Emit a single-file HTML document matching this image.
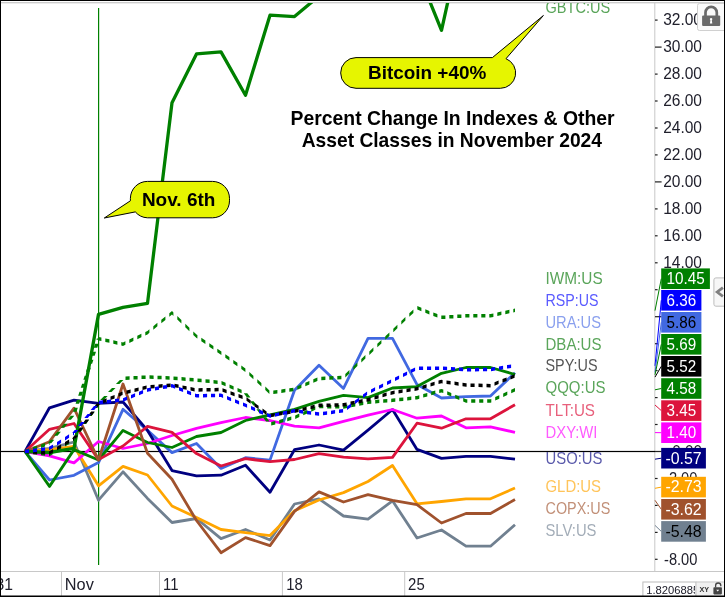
<!DOCTYPE html><html><head><meta charset="utf-8"><title>Percent Change In Indexes</title><style>html,body{margin:0;padding:0;background:#fff}body{width:725px;height:597px;overflow:hidden}</style></head><body><svg width="725" height="597" viewBox="0 0 725 597" style="display:block;font-family:'Liberation Sans',sans-serif">
<rect width="725" height="597" fill="#fff"/>
<defs><clipPath id="plot"><rect x="1" y="3" width="653.5" height="568"/></clipPath><clipPath id="axc"><rect x="655" y="3" width="69" height="568"/></clipPath><clipPath id="inp"><rect x="643" y="582" width="52" height="13.5"/></clipPath></defs>
<rect x="1" y="2.2" width="723" height="1.1" fill="#c0c0c0"/>
<rect x="1" y="571" width="723" height="1" fill="#c8c8c8"/>
<rect x="654.3" y="3" width="1" height="568" fill="#c8c8c8"/>
<rect x="61.0" y="571" width="1" height="25" fill="#c8c8c8"/>
<rect x="159.0" y="571" width="1" height="25" fill="#c8c8c8"/>
<rect x="281.9" y="571" width="1" height="25" fill="#c8c8c8"/>
<rect x="404.2" y="571" width="1" height="25" fill="#c8c8c8"/>
<rect x="98" y="8" width="1.2" height="557" fill="#008000"/>
<rect x="1" y="450.9" width="654" height="1.2" fill="#000"/>
<g clip-path="url(#plot)" fill="none" stroke-linejoin="round" stroke-linecap="butt">
<path d="M25.0 451.5L49.5 448.4L74.0 442.0L98.5 500.2L123.0 471.8L147.5 498.4L172.0 522.5L196.5 518.5L221.0 538.6L245.5 529.5L270.0 540.0L294.5 504.0L319.0 498.8L343.5 516.0L368.0 519.2L392.5 500.8L417.0 538.0L441.5 530.0L466.0 546.2L490.5 546.2L515.0 524.8" stroke="#708090" stroke-width="2.8"/>
<path d="M25.0 451.5L49.5 449.6L74.0 446.5L98.5 485.8L123.0 466.4L147.5 475.0L172.0 506.0L196.5 517.5L221.0 529.5L245.5 532.6L270.0 535.6L294.5 510.8L319.0 500.0L343.5 492.6L368.0 481.5L392.5 465.5L417.0 503.8L441.5 501.5L466.0 498.8L490.5 498.8L515.0 488.0" stroke="#ffa500" stroke-width="2.8"/>
<path d="M25.0 451.5L49.5 480.0L74.0 475.3L98.5 462.6L123.0 409.3L147.5 430.4L172.0 452.6L196.5 443.5L221.0 468.4L245.5 457.7L270.0 460.1L294.5 390.3L319.0 365.2L343.5 388.4L368.0 338.3L392.5 338.3L417.0 384.6L441.5 398.0L466.0 396.6L490.5 396.0L515.0 372.7" stroke="#4169e1" stroke-width="2.8"/>
<path d="M25.0 451.5L49.5 407.8L74.0 400.2L98.5 403.3L123.0 402.0L147.5 430.4L172.0 470.6L196.5 475.8L221.0 475.2L245.5 465.2L270.0 492.3L294.5 449.7L319.0 445.0L343.5 450.2L368.0 430.2L392.5 409.5L417.0 449.4L441.5 458.4L466.0 456.4L490.5 456.4L515.0 459.1" stroke="#000080" stroke-width="2.8"/>
<path d="M25.0 451.5L49.5 455.8L74.0 462.9L98.5 441.5L123.0 448.5L147.5 443.5L172.0 435.5L196.5 428.4L221.0 422.6L245.5 417.5L270.0 420.5L294.5 426.1L319.0 427.9L343.5 421.3L368.0 415.2L392.5 409.5L417.0 418.2L441.5 416.0L466.0 427.8L490.5 426.8L515.0 432.4" stroke="#ff00ff" stroke-width="2.8"/>
<path d="M25.0 451.5L49.5 486.4L74.0 449.6L98.5 460.0L123.0 430.4L147.5 442.5L172.0 447.5L196.5 436.5L221.0 432.5L245.5 420.5L270.0 414.8L294.5 409.4L319.0 401.4L343.5 395.4L368.0 397.6L392.5 388.0L417.0 386.6L441.5 373.3L466.0 367.5L490.5 367.5L515.0 374.5" stroke="#008000" stroke-width="2.8"/>
<path d="M25.0 451.5L49.5 429.3L74.0 423.5L98.5 459.6L123.0 446.0L147.5 426.4L172.0 432.4L196.5 453.6L221.0 466.0L245.5 458.7L270.0 461.7L294.5 459.5L319.0 453.7L343.5 457.2L368.0 458.8L392.5 457.4L417.0 423.2L441.5 428.2L466.0 418.8L490.5 418.8L515.0 404.7" stroke="#dc143c" stroke-width="2.8"/>
<path d="M25.0 451.5L49.5 441.7L74.0 408.2L98.5 460.0L123.0 384.0L147.5 453.3L172.0 479.2L196.5 520.5L221.0 552.7L245.5 537.6L270.0 545.6L294.5 511.4L319.0 491.9L343.5 502.0L368.0 494.6L392.5 500.3L417.0 504.7L441.5 523.0L466.0 513.5L490.5 513.5L515.0 499.5" stroke="#a0522d" stroke-width="2.8"/>
<path d="M25.0 451.5L49.5 452.5L74.0 448.4L98.5 314.4L123.0 307.4L147.5 303.4L172.0 102.8L196.5 53.9L221.0 51.9L245.5 95.3L270.0 15.2L294.5 16.6L319.0 -4.0L343.5 -40.0L368.0 -60.0L392.5 -50.0L417.0 -30.0L441.5 30.3L466.0 -80.0L490.5 -90.0L515.0 -100.0" stroke="#008000" stroke-width="3.3"/>
<path d="M25.0 449.8L29.1 448.4L29.1 451.9L25.0 453.2ZM33.0 447.1L37.1 445.7L37.1 449.2L33.0 450.6ZM41.0 444.4L45.1 443.0L45.1 446.5L41.0 447.9ZM49.0 441.7L49.5 441.6L49.5 445.1L49.0 445.2ZM47.8 443.3L50.8 439.7L54.3 439.7L51.2 443.3ZM54.0 435.8L57.4 431.7L60.9 431.7L57.5 435.8ZM60.7 427.8L64.1 423.7L67.6 423.7L64.2 427.8ZM67.4 419.8L70.8 415.7L74.3 415.7L70.9 419.8ZM73.0 411.8L74.3 407.7L77.8 407.7L76.5 411.8ZM75.6 403.8L76.9 399.7L80.4 399.7L79.1 403.8ZM78.2 395.8L79.5 391.7L83.0 391.7L81.7 395.8ZM80.8 387.8L82.1 383.7L85.6 383.7L84.3 387.8ZM83.4 379.8L84.7 375.7L88.2 375.7L86.9 379.8ZM86.0 371.8L87.3 367.7L90.8 367.7L89.5 371.8ZM88.6 363.8L89.9 359.7L93.4 359.7L92.1 363.8ZM91.2 355.8L92.5 351.7L96.0 351.7L94.7 355.8ZM93.8 347.8L95.1 343.7L98.6 343.7L97.3 347.8ZM96.4 339.8L96.8 338.6L100.2 338.6L99.9 339.8ZM98.5 336.9L101.4 337.5L101.4 341.0L98.5 340.4ZM105.3 338.4L109.4 339.3L109.4 342.8L105.3 341.9ZM113.3 340.2L117.4 341.2L117.4 344.7L113.3 343.7ZM121.3 342.1L123.0 342.4L123.0 345.9L121.3 345.6ZM123.0 342.4L125.4 341.3L125.4 344.8L123.0 345.9ZM129.3 339.5L133.4 337.5L133.4 341.0L129.3 343.0ZM137.3 335.7L141.4 333.7L141.4 337.2L137.3 339.2ZM145.3 331.9L147.5 330.9L147.5 334.4L145.3 335.4ZM147.5 330.9L149.4 329.3L149.4 332.8L147.5 334.4ZM153.3 326.2L157.4 322.8L157.4 326.3L153.3 329.7ZM161.3 319.7L165.4 316.4L165.4 319.9L161.3 323.2ZM169.3 313.2L172.0 311.1L172.0 314.6L169.3 316.7ZM172.0 311.1L173.4 312.4L173.4 315.9L172.0 314.6ZM177.3 316.1L181.4 320.0L181.4 323.5L177.3 319.6ZM185.3 323.8L189.4 327.7L189.4 331.2L185.3 327.3ZM193.3 331.4L196.5 334.4L196.5 337.9L193.3 334.9ZM196.5 334.4L197.4 335.1L197.4 338.6L196.5 337.9ZM201.3 337.7L205.4 340.6L205.4 344.1L201.3 341.2ZM209.3 343.2L213.4 346.0L213.4 349.5L209.3 346.7ZM217.3 348.7L221.0 351.2L221.0 354.8L217.3 352.2ZM221.0 351.2L221.4 351.5L221.4 355.0L221.0 354.8ZM225.3 354.3L229.4 357.1L229.4 360.6L225.3 357.8ZM233.3 359.9L237.4 362.8L237.4 366.3L233.3 363.4ZM241.3 365.5L245.4 368.4L245.4 371.9L241.3 369.0ZM249.3 371.9L253.4 375.7L253.4 379.2L249.3 375.4ZM257.3 379.3L261.4 383.1L261.4 386.6L257.3 382.8ZM265.3 386.6L269.4 390.4L269.4 393.9L265.3 390.1ZM273.3 390.5L277.4 389.9L277.4 393.4L273.3 394.0ZM281.3 389.4L285.4 388.8L285.4 392.3L281.3 392.9ZM289.3 388.3L293.4 387.7L293.4 391.2L289.3 391.8ZM297.3 386.3L301.4 384.5L301.4 388.0L297.3 389.8ZM305.3 382.8L309.4 381.0L309.4 384.5L305.3 386.3ZM313.3 379.3L317.4 377.5L317.4 381.0L313.3 382.8ZM321.3 376.7L325.4 376.5L325.4 380.0L321.3 380.2ZM329.3 376.3L333.4 376.1L333.4 379.6L329.3 379.8ZM337.3 375.9L341.4 375.7L341.4 379.2L337.3 379.4ZM345.3 373.9L349.4 370.0L349.4 373.5L345.3 377.4ZM353.3 366.4L357.4 362.6L357.4 366.1L353.3 369.9ZM361.3 358.9L365.4 355.1L365.4 358.6L361.3 362.4ZM369.3 351.4L373.4 347.5L373.4 351.0L369.3 354.9ZM377.3 343.8L381.4 340.0L381.4 343.5L377.3 347.3ZM385.3 336.3L389.4 332.4L389.4 335.9L385.3 339.8ZM393.3 328.7L397.4 324.8L397.4 328.3L393.3 332.2ZM401.3 321.0L405.4 317.1L405.4 320.6L401.3 324.5ZM409.3 313.3L413.4 309.4L413.4 312.9L409.3 316.8ZM417.3 306.1L421.4 307.7L421.4 311.2L417.3 309.6ZM425.3 309.2L429.4 310.9L429.4 314.4L425.3 312.7ZM433.3 312.4L437.4 314.0L437.4 317.5L433.3 315.9ZM441.3 315.6L441.5 315.6L441.5 319.1L441.3 319.1ZM441.5 315.6L445.4 315.4L445.4 318.9L441.5 319.1ZM449.3 315.1L453.4 314.9L453.4 318.4L449.3 318.6ZM457.3 314.6L461.4 314.4L461.4 317.9L457.3 318.1ZM465.3 314.1L466.0 314.1L466.0 317.6L465.3 317.6ZM466.0 314.1L469.4 314.1L469.4 317.6L466.0 317.6ZM473.3 314.1L477.4 314.1L477.4 317.6L473.3 317.6ZM481.3 314.1L485.4 314.1L485.4 317.6L481.3 317.6ZM489.3 314.1L490.5 314.1L490.5 317.6L489.3 317.6ZM490.5 314.1L493.4 313.4L493.4 316.9L490.5 317.6ZM497.3 312.5L501.4 311.6L501.4 315.1L497.3 316.0ZM505.3 310.7L509.4 309.8L509.4 313.3L505.3 314.2ZM513.3 308.9L515.0 308.6L515.0 312.1L513.3 312.4Z" fill="#008000" stroke="none"/>
<path d="M25.0 449.8L29.1 450.3L29.1 453.8L25.0 453.2ZM33.0 450.7L37.1 451.2L37.1 454.7L33.0 454.2ZM41.0 451.7L45.1 452.2L45.1 455.7L41.0 455.2ZM49.0 452.7L49.5 452.8L49.5 456.2L49.0 456.2ZM49.5 452.8L53.1 450.5L53.1 454.0L49.5 456.2ZM57.0 448.0L61.1 445.4L61.1 448.9L57.0 451.5ZM65.0 442.9L69.1 440.4L69.1 443.9L65.0 446.4ZM73.0 437.9L74.0 437.2L74.0 440.8L73.0 441.4ZM72.2 439.0L74.4 435.9L77.9 435.9L75.8 439.0ZM77.1 432.0L79.9 427.9L83.4 427.9L80.6 432.0ZM82.6 424.0L85.4 419.9L88.9 419.9L86.1 424.0ZM88.1 416.0L91.0 411.9L94.5 411.9L91.6 416.0ZM93.6 408.0L96.5 403.9L100.0 403.9L97.1 408.0ZM100.2 400.0L104.2 395.9L107.7 395.9L103.7 400.0ZM108.0 392.0L112.0 387.9L115.5 387.9L111.5 392.0ZM115.9 384.0L119.9 379.9L123.4 379.9L119.4 384.0ZM125.5 376.6L129.6 376.3L129.6 379.8L125.5 380.1ZM133.5 376.1L137.6 375.9L137.6 379.4L133.5 379.6ZM141.5 375.6L145.6 375.4L145.6 378.9L141.5 379.1ZM149.5 375.3L153.6 375.5L153.6 379.0L149.5 378.8ZM157.5 375.7L161.6 375.8L161.6 379.3L157.5 379.2ZM165.5 376.0L169.6 376.2L169.6 379.7L165.5 379.5ZM173.5 376.4L177.6 376.7L177.6 380.2L173.5 379.9ZM181.5 377.0L185.6 377.4L185.6 380.9L181.5 380.5ZM189.5 377.7L193.6 378.0L193.6 381.5L189.5 381.2ZM197.5 378.4L201.6 378.8L201.6 382.3L197.5 381.9ZM205.5 379.2L209.6 379.6L209.6 383.1L205.5 382.7ZM213.5 380.0L217.6 380.4L217.6 383.9L213.5 383.5ZM221.5 381.0L225.6 382.8L225.6 386.3L221.5 384.5ZM229.5 384.5L233.6 386.3L233.6 389.8L229.5 388.0ZM237.5 388.0L241.6 389.8L241.6 393.3L237.5 391.5ZM243.8 393.3L247.0 397.4L250.5 397.4L247.3 393.3ZM250.1 401.3L253.4 405.4L256.9 405.4L253.6 401.3ZM256.5 409.3L259.7 413.4L263.2 413.4L260.0 409.3ZM262.8 417.3L266.1 421.4L269.6 421.4L266.3 417.3ZM271.2 422.0L275.3 420.9L275.3 424.4L271.2 425.5ZM279.2 419.9L283.3 418.8L283.3 422.3L279.2 423.4ZM287.2 417.7L291.3 416.6L291.3 420.1L287.2 421.2ZM295.2 415.4L299.3 413.6L299.3 417.1L295.2 418.9ZM303.2 411.8L307.3 410.0L307.3 413.5L303.2 415.3ZM311.2 408.2L315.3 406.3L315.3 409.8L311.2 411.7ZM319.2 404.7L323.3 404.8L323.3 408.3L319.2 408.2ZM327.2 404.9L331.3 405.0L331.3 408.5L327.2 408.4ZM335.2 405.0L339.3 405.1L339.3 408.6L335.2 408.5ZM343.2 405.2L343.5 405.2L343.5 408.8L343.2 408.7ZM343.5 405.2L347.3 404.5L347.3 408.0L343.5 408.8ZM351.2 403.8L355.3 403.0L355.3 406.5L351.2 407.3ZM359.2 402.2L363.3 401.5L363.3 405.0L359.2 405.7ZM367.2 400.7L368.0 400.6L368.0 404.1L367.2 404.2ZM368.0 400.6L371.3 400.3L371.3 403.8L368.0 404.1ZM375.2 400.0L379.3 399.6L379.3 403.1L375.2 403.5ZM383.2 399.3L387.3 399.0L387.3 402.5L383.2 402.8ZM391.2 398.7L392.5 398.6L392.5 402.1L391.2 402.2ZM392.5 398.6L395.3 398.2L395.3 401.7L392.5 402.1ZM399.2 397.8L403.3 397.4L403.3 400.9L399.2 401.3ZM407.2 396.9L411.3 396.5L411.3 400.0L407.2 400.4ZM415.2 396.0L417.0 395.9L417.0 399.4L415.2 399.5ZM417.0 395.9L419.3 395.2L419.3 398.7L417.0 399.4ZM423.2 394.1L427.3 392.9L427.3 396.4L423.2 397.6ZM431.2 391.8L435.3 390.6L435.3 394.1L431.2 395.3ZM439.2 389.5L441.5 388.9L441.5 392.4L439.2 393.0ZM441.5 388.9L443.3 389.6L443.3 393.1L441.5 392.4ZM447.2 391.3L451.3 393.0L451.3 396.5L447.2 394.8ZM455.2 394.7L459.3 396.4L459.3 399.9L455.2 398.2ZM463.2 398.1L466.0 399.2L466.0 402.8L463.2 401.6ZM466.0 399.2L467.3 399.2L467.3 402.8L466.0 402.8ZM471.2 399.2L475.3 399.2L475.3 402.8L471.2 402.8ZM479.2 399.2L483.3 399.2L483.3 402.8L479.2 402.8ZM487.2 399.2L490.5 399.2L490.5 402.8L487.2 402.8ZM490.5 399.2L491.3 398.9L491.3 402.4L490.5 402.8ZM495.2 397.1L499.3 395.2L499.3 398.7L495.2 400.6ZM503.2 393.4L507.3 391.6L507.3 395.1L503.2 396.9ZM511.2 389.8L515.0 388.1L515.0 391.6L511.2 393.3Z" fill="#008000" stroke="none"/>
<path d="M25.0 449.8L29.1 450.0L29.1 453.5L25.0 453.2ZM33.0 450.2L37.1 450.5L37.1 454.0L33.0 453.7ZM41.0 450.7L45.1 451.0L45.1 454.5L41.0 454.2ZM49.0 451.2L49.5 451.2L49.5 454.8L49.0 454.7ZM49.5 451.2L53.1 449.1L53.1 452.6L49.5 454.8ZM57.0 446.8L61.1 444.4L61.1 447.9L57.0 450.3ZM65.0 442.1L69.1 439.6L69.1 443.1L65.0 445.6ZM73.0 437.3L74.0 436.8L74.0 440.2L73.0 440.8ZM72.2 438.5L74.4 435.4L77.9 435.4L75.8 438.5ZM77.1 431.5L80.0 427.4L83.5 427.4L80.6 431.5ZM82.8 423.5L85.6 419.4L89.1 419.4L86.2 423.5ZM88.3 415.5L91.2 411.4L94.7 411.4L91.8 415.5ZM94.0 407.5L96.8 403.5L100.2 403.5L97.5 407.5ZM98.5 401.8L98.6 401.7L98.6 405.2L98.5 405.2ZM102.5 400.0L106.6 398.3L106.6 401.8L102.5 403.5ZM110.5 396.6L114.6 394.9L114.6 398.4L110.5 400.1ZM118.5 393.2L122.6 391.4L122.6 394.9L118.5 396.7ZM126.5 390.4L130.6 389.4L130.6 392.9L126.5 393.9ZM134.5 388.4L138.6 387.4L138.6 390.9L134.5 391.9ZM142.5 386.5L146.6 385.5L146.6 389.0L142.5 390.0ZM150.5 385.0L154.6 384.7L154.6 388.2L150.5 388.5ZM158.5 384.4L162.6 384.0L162.6 387.5L158.5 387.9ZM166.5 383.7L170.6 383.4L170.6 386.9L166.5 387.2ZM174.5 383.8L178.6 384.6L178.6 388.1L174.5 387.3ZM182.5 385.4L186.6 386.2L186.6 389.7L182.5 388.9ZM190.5 387.0L194.6 387.9L194.6 391.4L190.5 390.5ZM198.5 388.2L202.6 388.1L202.6 391.6L198.5 391.7ZM206.5 388.0L210.6 388.0L210.6 391.5L206.5 391.5ZM214.5 387.9L218.6 387.8L218.6 391.3L214.5 391.4ZM222.5 388.3L226.6 389.8L226.6 393.3L222.5 391.8ZM230.5 391.2L234.6 392.7L234.6 396.2L230.5 394.7ZM238.5 394.1L242.6 395.6L242.6 399.1L238.5 397.6ZM246.5 397.3L250.6 400.2L250.6 403.7L246.5 400.8ZM254.5 402.9L258.6 405.8L258.6 409.3L254.5 406.4ZM262.5 408.5L266.6 411.4L266.6 414.9L262.5 412.0ZM270.5 413.7L274.6 413.0L274.6 416.5L270.5 417.2ZM278.5 412.3L282.6 411.6L282.6 415.1L278.5 415.8ZM286.5 411.0L290.6 410.3L290.6 413.8L286.5 414.5ZM294.5 409.6L298.6 408.6L298.6 412.1L294.5 413.1ZM302.5 407.7L306.6 406.7L306.6 410.2L302.5 411.2ZM310.5 405.7L314.6 404.7L314.6 408.2L310.5 409.2ZM318.5 403.8L319.0 403.6L319.0 407.1L318.5 407.3ZM319.0 403.6L322.6 403.6L322.6 407.1L319.0 407.1ZM326.5 403.5L330.6 403.4L330.6 406.9L326.5 407.0ZM334.5 403.3L338.6 403.2L338.6 406.7L334.5 406.8ZM342.5 403.1L343.5 403.1L343.5 406.6L342.5 406.6ZM343.5 403.1L346.6 402.4L346.6 405.9L343.5 406.6ZM350.5 401.6L354.6 400.7L354.6 404.2L350.5 405.1ZM358.5 399.9L362.6 399.1L362.6 402.6L358.5 403.4ZM366.5 398.3L368.0 397.9L368.0 401.4L366.5 401.8ZM368.0 397.9L370.6 397.2L370.6 400.7L368.0 401.4ZM374.5 396.1L378.6 394.9L378.6 398.4L374.5 399.6ZM382.5 393.7L386.6 392.6L386.6 396.1L382.5 397.2ZM390.5 391.4L392.5 390.9L392.5 394.4L390.5 394.9ZM392.5 390.9L394.6 390.5L394.6 394.0L392.5 394.4ZM398.5 389.9L402.6 389.3L402.6 392.8L398.5 393.4ZM406.5 388.7L410.6 388.0L410.6 391.5L406.5 392.2ZM414.5 387.4L417.0 387.1L417.0 390.6L414.5 390.9ZM417.0 387.1L418.6 386.6L418.6 390.1L417.0 390.6ZM422.5 385.4L426.6 384.2L426.6 387.7L422.5 388.9ZM430.5 383.0L434.6 381.8L434.6 385.3L430.5 386.5ZM438.5 380.6L441.5 379.8L441.5 383.2L438.5 384.1ZM441.5 379.8L442.6 379.9L442.6 383.4L441.5 383.2ZM446.5 380.5L450.6 381.0L450.6 384.5L446.5 384.0ZM454.5 381.6L458.6 382.2L458.6 385.7L454.5 385.1ZM462.5 382.7L466.0 383.2L466.0 386.8L462.5 386.2ZM466.0 383.2L466.6 383.3L466.6 386.8L466.0 386.8ZM470.5 383.4L474.6 383.5L474.6 387.0L470.5 386.9ZM478.5 383.6L482.6 383.7L482.6 387.2L478.5 387.1ZM486.5 383.8L490.5 383.9L490.5 387.4L486.5 387.3ZM490.5 383.9L490.6 383.8L490.6 387.3L490.5 387.4ZM494.5 382.3L498.6 380.6L498.6 384.1L494.5 385.8ZM502.5 379.1L506.6 377.4L506.6 380.9L502.5 382.6ZM510.5 375.9L514.6 374.2L514.6 377.7L510.5 379.4Z" fill="#000000" stroke="none"/>
<path d="M25.0 449.8L29.1 449.2L29.1 452.7L25.0 453.2ZM33.0 448.7L37.1 448.2L37.1 451.7L33.0 452.2ZM41.0 447.7L45.1 447.2L45.1 450.7L41.0 451.2ZM49.0 446.7L49.5 446.6L49.5 450.1L49.0 450.2ZM49.5 446.6L53.1 444.4L53.1 447.9L49.5 450.1ZM57.0 441.9L61.1 439.4L61.1 442.9L57.0 445.4ZM65.0 436.9L69.1 434.3L69.1 437.8L65.0 440.4ZM73.0 431.9L74.0 431.2L74.0 434.8L73.0 435.4ZM72.2 433.0L74.7 429.9L78.2 429.9L75.8 433.0ZM77.9 426.0L81.2 421.9L84.7 421.9L81.4 426.0ZM84.3 418.0L87.6 413.9L91.1 413.9L87.8 418.0ZM90.7 410.0L94.0 405.9L97.5 405.9L94.2 410.0ZM99.0 400.7L103.1 400.3L103.1 403.8L99.0 404.2ZM107.0 399.9L111.1 399.5L111.1 403.0L107.0 403.4ZM115.0 399.1L119.1 398.6L119.1 402.1L115.0 402.6ZM123.0 398.2L127.1 396.6L127.1 400.1L123.0 401.7ZM131.0 395.0L135.1 393.3L135.1 396.8L131.0 398.5ZM139.0 391.7L143.1 390.0L143.1 393.5L139.0 395.2ZM147.0 388.5L147.5 388.2L147.5 391.8L147.0 392.0ZM147.5 388.2L151.1 387.6L151.1 391.1L147.5 391.8ZM155.0 387.0L159.1 386.3L159.1 389.8L155.0 390.5ZM163.0 385.6L167.1 384.9L167.1 388.4L163.0 389.1ZM171.0 384.2L172.0 384.1L172.0 387.6L171.0 387.7ZM172.0 384.1L175.1 385.3L175.1 388.8L172.0 387.6ZM179.0 386.9L183.1 388.6L183.1 392.1L179.0 390.4ZM187.0 390.2L191.1 391.8L191.1 395.3L187.0 393.7ZM195.0 393.4L196.5 394.1L196.5 397.6L195.0 396.9ZM196.5 394.1L199.1 394.0L199.1 397.5L196.5 397.6ZM203.0 393.9L207.1 393.8L207.1 397.3L203.0 397.4ZM211.0 393.8L215.1 393.7L215.1 397.2L211.0 397.3ZM219.0 393.6L221.0 393.6L221.0 397.1L219.0 397.1ZM221.0 393.6L223.1 394.4L223.1 397.9L221.0 397.1ZM227.0 396.0L231.1 397.7L231.1 401.2L227.0 399.5ZM235.0 399.3L239.1 401.0L239.1 404.5L235.0 402.8ZM243.0 402.6L245.5 403.6L245.5 407.1L243.0 406.1ZM245.5 403.6L247.1 404.3L247.1 407.8L245.5 407.1ZM251.0 406.0L255.1 407.8L255.1 411.3L251.0 409.5ZM259.0 409.5L263.1 411.3L263.1 414.8L259.0 413.0ZM267.0 413.0L270.0 414.2L270.0 417.8L267.0 416.5ZM270.0 414.2L271.1 414.0L271.1 417.5L270.0 417.8ZM275.0 413.2L279.1 412.3L279.1 415.8L275.0 416.7ZM283.0 411.5L287.1 410.6L287.1 414.1L283.0 415.0ZM291.0 409.8L294.5 409.1L294.5 412.6L291.0 413.3ZM294.5 409.1L295.1 409.1L295.1 412.6L294.5 412.6ZM299.0 409.6L303.1 410.2L303.1 413.7L299.0 413.1ZM307.0 410.7L311.1 411.2L311.1 414.7L307.0 414.2ZM315.0 411.7L319.0 412.2L319.0 415.8L315.0 415.2ZM319.0 412.2L319.1 412.2L319.1 415.7L319.0 415.8ZM323.0 411.7L327.1 411.2L327.1 414.7L323.0 415.2ZM331.0 410.7L335.1 410.1L335.1 413.6L331.0 414.2ZM339.0 409.6L343.1 409.1L343.1 412.6L339.0 413.1ZM347.0 406.5L351.1 403.4L351.1 406.9L347.0 410.0ZM355.0 400.5L359.1 397.5L359.1 401.0L355.0 404.0ZM363.0 394.6L367.1 391.5L367.1 395.0L363.0 398.1ZM371.0 389.4L375.1 387.3L375.1 390.8L371.0 392.9ZM379.0 385.4L383.1 383.4L383.1 386.9L379.0 388.9ZM387.0 381.5L391.1 379.4L391.1 382.9L387.0 385.0ZM395.0 377.5L399.1 375.4L399.1 378.9L395.0 381.0ZM403.0 373.5L407.1 371.4L407.1 374.9L403.0 377.0ZM411.0 369.5L415.1 367.4L415.1 370.9L411.0 373.0ZM419.0 366.4L423.1 366.4L423.1 369.9L419.0 369.9ZM427.0 366.4L431.1 366.4L431.1 369.9L427.0 369.9ZM435.0 366.4L439.1 366.4L439.1 369.9L435.0 369.9ZM443.0 366.5L447.1 366.8L447.1 370.3L443.0 370.0ZM451.0 367.0L455.1 367.3L455.1 370.8L451.0 370.5ZM459.0 367.5L463.1 367.8L463.1 371.3L459.0 371.0ZM467.0 367.9L471.1 367.9L471.1 371.4L467.0 371.4ZM475.0 367.9L479.1 367.8L479.1 371.3L475.0 371.4ZM483.0 367.8L487.1 367.8L487.1 371.3L483.0 371.3ZM491.0 367.7L495.1 367.0L495.1 370.5L491.0 371.2ZM499.0 366.4L503.1 365.7L503.1 369.2L499.0 369.9ZM507.0 365.1L511.1 364.5L511.1 368.0L507.0 368.6Z" fill="#0000ff" stroke="none"/>
</g>
<g clip-path="url(#axc)" font-size="16.3" fill="#20202c">
<rect x="655" y="19.5" width="2.6" height="1.2" fill="#222"/>
<text x="663.2" y="25.3" textLength="38.8" lengthAdjust="spacingAndGlyphs">32.00</text>
<rect x="655" y="46.5" width="6.6" height="1.2" fill="#222"/>
<text x="663.2" y="52.3" textLength="38.8" lengthAdjust="spacingAndGlyphs">30.00</text>
<rect x="655" y="73.5" width="2.6" height="1.2" fill="#222"/>
<text x="663.2" y="79.3" textLength="38.8" lengthAdjust="spacingAndGlyphs">28.00</text>
<rect x="655" y="100.4" width="2.6" height="1.2" fill="#222"/>
<text x="663.2" y="106.2" textLength="38.8" lengthAdjust="spacingAndGlyphs">26.00</text>
<rect x="655" y="127.4" width="2.6" height="1.2" fill="#222"/>
<text x="663.2" y="133.2" textLength="38.8" lengthAdjust="spacingAndGlyphs">24.00</text>
<rect x="655" y="154.3" width="2.6" height="1.2" fill="#222"/>
<text x="663.2" y="160.1" textLength="38.8" lengthAdjust="spacingAndGlyphs">22.00</text>
<rect x="655" y="181.3" width="6.6" height="1.2" fill="#222"/>
<text x="663.2" y="187.1" textLength="38.8" lengthAdjust="spacingAndGlyphs">20.00</text>
<rect x="655" y="208.3" width="2.6" height="1.2" fill="#222"/>
<text x="663.2" y="214.1" textLength="38.8" lengthAdjust="spacingAndGlyphs">18.00</text>
<rect x="655" y="235.2" width="2.6" height="1.2" fill="#222"/>
<text x="663.2" y="241.0" textLength="38.8" lengthAdjust="spacingAndGlyphs">16.00</text>
<rect x="655" y="262.2" width="2.6" height="1.2" fill="#222"/>
<text x="663.2" y="268.0" textLength="38.8" lengthAdjust="spacingAndGlyphs">14.00</text>
<rect x="655" y="289.1" width="2.6" height="1.2" fill="#222"/>
<rect x="655" y="316.1" width="6.6" height="1.2" fill="#222"/>
<rect x="655" y="343.1" width="2.6" height="1.2" fill="#222"/>
<rect x="655" y="370.0" width="2.6" height="1.2" fill="#222"/>
<rect x="655" y="397.0" width="2.6" height="1.2" fill="#222"/>
<rect x="655" y="423.9" width="2.6" height="1.2" fill="#222"/>
<rect x="655" y="450.9" width="6.6" height="1.2" fill="#222"/>
<text x="672.3" y="456.7" textLength="29.7" lengthAdjust="spacingAndGlyphs">0.00</text>
<rect x="655" y="477.9" width="2.6" height="1.2" fill="#222"/>
<text x="664.0" y="483.7" textLength="33.4" lengthAdjust="spacingAndGlyphs">-2.00</text>
<rect x="655" y="504.8" width="2.6" height="1.2" fill="#222"/>
<rect x="655" y="531.8" width="2.6" height="1.2" fill="#222"/>
<rect x="655" y="558.7" width="2.6" height="1.2" fill="#222"/>
<text x="664.0" y="564.5" textLength="33.4" lengthAdjust="spacingAndGlyphs">-8.00</text>
</g>
<line x1="655" y1="310.6" x2="661.3" y2="278.7" stroke="#008000" stroke-width="1"/>
<line x1="655" y1="365.8" x2="661.3" y2="300.3" stroke="#0000ff" stroke-width="1"/>
<line x1="655" y1="372.5" x2="661.3" y2="322.3" stroke="#4169e1" stroke-width="1"/>
<line x1="655" y1="374.8" x2="661.3" y2="344.3" stroke="#008000" stroke-width="1"/>
<line x1="655" y1="377.1" x2="661.3" y2="366.3" stroke="#000000" stroke-width="1"/>
<line x1="655" y1="389.8" x2="661.3" y2="388.5" stroke="#008000" stroke-width="1"/>
<line x1="655" y1="405.0" x2="661.3" y2="410.6" stroke="#dc143c" stroke-width="1"/>
<line x1="655" y1="432.6" x2="661.3" y2="432.7" stroke="#ff00ff" stroke-width="1"/>
<line x1="655" y1="459.2" x2="661.3" y2="458.2" stroke="#000080" stroke-width="1"/>
<line x1="655" y1="488.3" x2="661.3" y2="487.1" stroke="#ffa500" stroke-width="1"/>
<line x1="655" y1="500.3" x2="661.3" y2="509.3" stroke="#a0522d" stroke-width="1"/>
<line x1="655" y1="525.4" x2="661.3" y2="531.4" stroke="#708090" stroke-width="1"/>
<rect x="661.2" y="268.4" width="48.7" height="20.6" fill="#008000"/>
<text x="666.4" y="284.0" font-size="16.3" fill="#fff" textLength="38.3" lengthAdjust="spacingAndGlyphs">10.45</text>
<rect x="661.2" y="290" width="40.2" height="20.6" fill="#0000ff"/>
<text x="666.5" y="305.6" font-size="16.3" fill="#fff" textLength="29.6" lengthAdjust="spacingAndGlyphs">6.36</text>
<rect x="661.2" y="312" width="40.2" height="20.6" fill="#4169e1"/>
<text x="666.5" y="327.6" font-size="16.3" fill="#000" textLength="29.6" lengthAdjust="spacingAndGlyphs">5.86</text>
<rect x="661.2" y="334" width="40.2" height="20.6" fill="#008000"/>
<text x="666.5" y="349.6" font-size="16.3" fill="#fff" textLength="29.6" lengthAdjust="spacingAndGlyphs">5.69</text>
<rect x="661.2" y="356" width="40.2" height="20.6" fill="#000000"/>
<text x="666.5" y="371.6" font-size="16.3" fill="#fff" textLength="29.6" lengthAdjust="spacingAndGlyphs">5.52</text>
<rect x="661.2" y="378.2" width="40.2" height="20.6" fill="#008000"/>
<text x="666.5" y="393.8" font-size="16.3" fill="#fff" textLength="29.6" lengthAdjust="spacingAndGlyphs">4.58</text>
<rect x="661.2" y="400.3" width="40.2" height="20.6" fill="#dc143c"/>
<text x="666.5" y="415.9" font-size="16.3" fill="#fff" textLength="29.6" lengthAdjust="spacingAndGlyphs">3.45</text>
<rect x="661.2" y="422.4" width="40.2" height="20.6" fill="#ff00ff"/>
<text x="666.5" y="438.0" font-size="16.3" fill="#fff" textLength="29.6" lengthAdjust="spacingAndGlyphs">1.40</text>
<rect x="661.2" y="447.9" width="44.7" height="20.6" fill="#000080"/>
<text x="665.4" y="463.5" font-size="16.3" fill="#fff" textLength="36.3" lengthAdjust="spacingAndGlyphs">-0.57</text>
<rect x="661.2" y="476.8" width="44.7" height="20.6" fill="#ffa500"/>
<text x="665.4" y="492.4" font-size="16.3" fill="#fff" textLength="36.3" lengthAdjust="spacingAndGlyphs">-2.73</text>
<rect x="661.2" y="499" width="44.7" height="20.6" fill="#a0522d"/>
<text x="665.4" y="514.6" font-size="16.3" fill="#fff" textLength="36.3" lengthAdjust="spacingAndGlyphs">-3.62</text>
<rect x="661.2" y="521.1" width="44.7" height="20.6" fill="#708090"/>
<text x="665.4" y="536.7" font-size="16.3" fill="#000" textLength="36.3" lengthAdjust="spacingAndGlyphs">-5.48</text>
<g clip-path="url(#plot)" font-size="16.6">
<text x="545.5" y="12.6" fill="#5aa55a" textLength="64.7" lengthAdjust="spacingAndGlyphs">GBTC:US</text>
<text x="545.5" y="283.9" fill="#5aa55a" textLength="57.2" lengthAdjust="spacingAndGlyphs">IWM:US</text>
<text x="545.5" y="305.7" fill="#5a5aff" textLength="53" lengthAdjust="spacingAndGlyphs">RSP:US</text>
<text x="545.5" y="327.5" fill="#8aa0ee" textLength="55.5" lengthAdjust="spacingAndGlyphs">URA:US</text>
<text x="545.5" y="349.5" fill="#5aa55a" textLength="56" lengthAdjust="spacingAndGlyphs">DBA:US</text>
<text x="545.5" y="371.3" fill="#555555" textLength="52" lengthAdjust="spacingAndGlyphs">SPY:US</text>
<text x="545.5" y="393.3" fill="#5aa55a" textLength="60" lengthAdjust="spacingAndGlyphs">QQQ:US</text>
<text x="545.5" y="415.6" fill="#e8607c" textLength="49.5" lengthAdjust="spacingAndGlyphs">TLT:US</text>
<text x="545.5" y="437.7" fill="#ff5aff" textLength="52" lengthAdjust="spacingAndGlyphs">DXY:WI</text>
<text x="545.5" y="463.5" fill="#5a5aab" textLength="57" lengthAdjust="spacingAndGlyphs">USO:US</text>
<text x="545.5" y="492.2" fill="#ffc45a" textLength="55.5" lengthAdjust="spacingAndGlyphs">GLD:US</text>
<text x="545.5" y="513.8" fill="#c29078" textLength="64.8" lengthAdjust="spacingAndGlyphs">COPX:US</text>
<text x="545.5" y="536.1" fill="#a3adb8" textLength="51" lengthAdjust="spacingAndGlyphs">SLV:US</text>
</g>
<g font-weight="bold" fill="#000" font-size="19.3">
<text x="290.6" y="124.9" textLength="324" lengthAdjust="spacingAndGlyphs">Percent Change In Indexes &amp; Other</text>
<text x="301.7" y="147.1" textLength="300.3" lengthAdjust="spacingAndGlyphs">Asset Classes in November 2024</text>
</g>
<path d="M356 57.6 L492.4 57.6 L543.4 15.5 L506 58.7 A15.35 15.35 0 0 1 500.4 88.3 L356 88.3 A15.35 15.35 0 0 1 356 57.6 Z" fill="#e6f500" stroke="#000" stroke-width="1" stroke-linejoin="miter"/>
<text x="368" y="78.9" font-weight="bold" font-size="19" textLength="118.3" lengthAdjust="spacingAndGlyphs">Bitcoin +40%</text>
<path d="M147.4 181.4 L212.5 181.4 A17 17 0 0 1 229.5 198.4 L229.5 200.8 A17 17 0 0 1 212.5 217.8 L147.4 217.8 A17 17 0 0 1 135.3 211.9 L104.3 218 L130.4 200.8 L130.4 198.4 A17 17 0 0 1 147.4 181.4 Z" fill="#e6f500" stroke="#000" stroke-width="1"/>
<text x="141.9" y="205.7" font-weight="bold" font-size="19" textLength="73.5" lengthAdjust="spacingAndGlyphs">Nov. 6th</text>
<g font-size="16.6" fill="#20202c">
<text x="-4.6" y="589.9" textLength="17.5" lengthAdjust="spacingAndGlyphs">31</text>
<text x="64.8" y="589.9" textLength="29" lengthAdjust="spacingAndGlyphs">Nov</text>
<text x="163" y="589.9" textLength="15.5" lengthAdjust="spacingAndGlyphs">11</text>
<text x="286.2" y="589.9" textLength="16.6" lengthAdjust="spacingAndGlyphs">18</text>
<text x="408.1" y="589.9" textLength="16.6" lengthAdjust="spacingAndGlyphs">25</text>
</g>
<rect x="697.5" y="3.5" width="30" height="27" rx="2" fill="#fafafa" stroke="#d0d0d0"/>
<g fill="#6a6a6a"><rect x="702.1" y="15.4" width="18.1" height="10.5" rx="1"/><path d="M705.5 16 V12.5 A5.65 5.65 0 0 1 716.8 12.5 V16" fill="none" stroke="#6a6a6a" stroke-width="2.7"/></g>
<path d="M711.1 18 a1.2 1.2 0 0 1 0.7 2.2 l0.5 3.4 h-2.4 l0.5 -3.4 a1.2 1.2 0 0 1 0.7 -2.2z" fill="#fff"/>
<rect x="713.9" y="277.9" width="14" height="28.3" rx="2" fill="#f7f7f7" stroke="#bdbdbd"/>
<path d="M722.9 287.6 L717.2 292 L722.9 296.3" fill="none" stroke="#808080" stroke-width="2.8"/>
<rect x="695.8" y="581.5" width="28" height="15" fill="#f0f0f0"/>
<rect x="642.9" y="582" width="53" height="15" fill="#fff" stroke="#bcbcbc"/>
<line x1="695.8" y1="582" x2="724" y2="582" stroke="#c8c8c8"/>
<g clip-path="url(#inp)"><text x="646.2" y="593.7" font-size="11" fill="#20202c" textLength="53" lengthAdjust="spacingAndGlyphs">1.8206885</text></g>
<text x="699.5" y="592.2" font-size="7.6" font-weight="bold" fill="#333" textLength="9.6" lengthAdjust="spacingAndGlyphs">XY</text>
<rect x="713.4" y="587.2" width="8.5" height="7.2" rx="0.8" fill="#444"/>
<path d="M715.6 587.5 V585.6 A2.6 2.6 0 0 1 720.8 585.6 V586.3" fill="none" stroke="#444" stroke-width="1.3"/>
<path d="M716.2 589.8 h3 l-1.5 1.8z" fill="#fff"/>
<rect x="0" y="0" width="725" height="1" fill="#000"/>
<rect x="0" y="0" width="1" height="597" fill="#000"/>
<rect x="724" y="0" width="1" height="597" fill="#000"/>
<rect x="0" y="595.5" width="725" height="1.5" fill="#000"/>
</svg></body></html>
